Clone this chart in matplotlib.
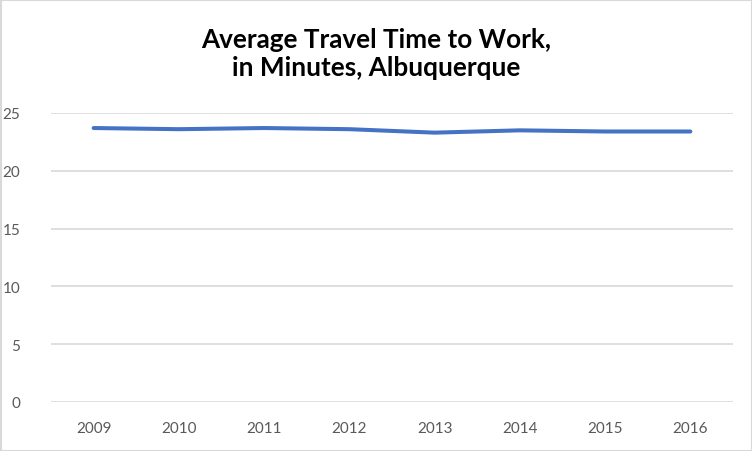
import matplotlib.pyplot as plt
from matplotlib.patches import Rectangle

years = ['2009', '2010', '2011', '2012', '2013', '2014', '2015', '2016']
travel_time = [23.7, 23.6, 23.7, 23.6, 23.3, 23.5, 23.4, 23.4]
y_ticks = [0, 5, 10, 15, 20, 25]

plt.rcParams['font.family'] = ['Lato', 'DejaVu Sans']

fig = plt.figure(figsize=(7.52, 4.52), dpi=100)
ax = fig.add_axes([51 / 752, 1 - 403 / 452, (733 - 51) / 752, (403 - 114) / 452])

x = list(range(len(years)))
ax.plot(x, travel_time, color='#4472C4', linewidth=2.9, solid_capstyle='round')

ax.set_xlim(-0.5, len(years) - 0.5)
ax.set_ylim(0, 25)
ax.set_xticks(x)
ax.set_xticklabels(years)
ax.set_yticks(y_ticks)

for y in y_ticks:
    ax.axhline(y, color='#D9D9D9', linewidth=1.2, zorder=0)

for s in ax.spines.values():
    s.set_visible(False)
ax.tick_params(length=0, colors='#595959', labelsize=11)
ax.tick_params(axis='x', pad=14)
ax.tick_params(axis='y', pad=22)

fig.text(0.5, 1 - 54 / 452, 'Average Travel Time to Work,\nin Minutes, Albuquerque',
         ha='center', va='center', fontsize=18.8, fontweight='bold', color='black',
         linespacing=1.2)

# chart border
fig.patches.append(Rectangle((0.5 / 752, 0.5 / 452), 751 / 752, 451 / 452,
                             transform=fig.transFigure, fill=False,
                             edgecolor='#D9D9D9', linewidth=1.5))

fig.savefig('out.png', dpi=100)
